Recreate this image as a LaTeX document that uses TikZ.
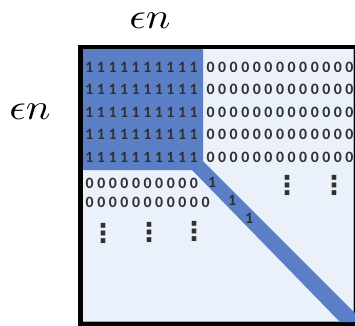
\documentclass[tikz,border=0pt]{standalone}
\usepackage{fontspec}
\newfontfamily\digitfont{Carlito}
\newfontfamily\symfont{DejaVu Sans}
\definecolor{darkblue}{HTML}{5B7FC6}
\definecolor{lightblue}{HTML}{EAF1FA}
\definecolor{txt}{HTML}{303030}
\definecolor{edge}{HTML}{A8A8A8}
\tikzset{
  digits/.style={font=\digitfont\bfseries\fontsize{15.8}{18}\selectfont, text=txt, inner sep=0pt},
  vdot/.style={font=\symfont\bfseries\fontsize{26}{30}\selectfont, text=txt, inner sep=0pt},
  label/.style={inner sep=0pt, text=black}
}
\begin{document}
\begin{tikzpicture}[x=1pt,y=-1pt]
\useasboundingbox (0,0) rectangle (355,325);
% frame
\fill[black] (78,45) rectangle (362,326);
\fill[lightblue] (83,49) rectangle (354,322);
\draw[edge, line width=0.8pt] (83,321.6) -- (353.6,321.6) -- (353.6,49);
% dark block and diagonal band
\fill[darkblue] (83,49) -- (203,49) -- (203,161) -- (355,313) -- (355,322) -- (340,322) -- (192,170) -- (83,170) -- cycle;
% labels
\node[label] (top) at (150,21) {\scalebox{4.1}[3.6]{$\epsilon n$}};
\node[label] (left) at (30,112) {\scalebox{4.1}[3.6]{$\epsilon n$}};
% ones block
\foreach \i/\yy in {1/67,2/89.5,3/112,4/134.5,5/157}{
  \node[digits] (one\i) at (141.5,\yy) {1 1 1 1 1 1 1 1 1 1};
  \node[digits] (zero\i) at (280,\yy) {0 0 0 0 0 0 0 0 0 0 0 0 0};
}
% lower zeros
\node[digits, anchor=west] (lz1) at (85.5,183) {0 0 0 0 0 0 0 0 0 0};
\node[digits, anchor=west] (lz2) at (85.5,202) {0 0 0 0 0 0 0 0 0 0 0};
% diagonal ones
\node[digits] (d1) at (212,182) {1};
\node[digits] (d2) at (232,200) {1};
\node[digits] (d3) at (249,218) {1};
% vertical dots
\node[vdot] (v1) at (287,185) {⋮};
\node[vdot] (v2) at (334,185) {⋮};
\node[vdot] (v3) at (103,233) {⋮};
\node[vdot] (v4) at (149,232) {⋮};
\node[vdot] (v5) at (194,231) {⋮};
\end{tikzpicture}
\end{document}
